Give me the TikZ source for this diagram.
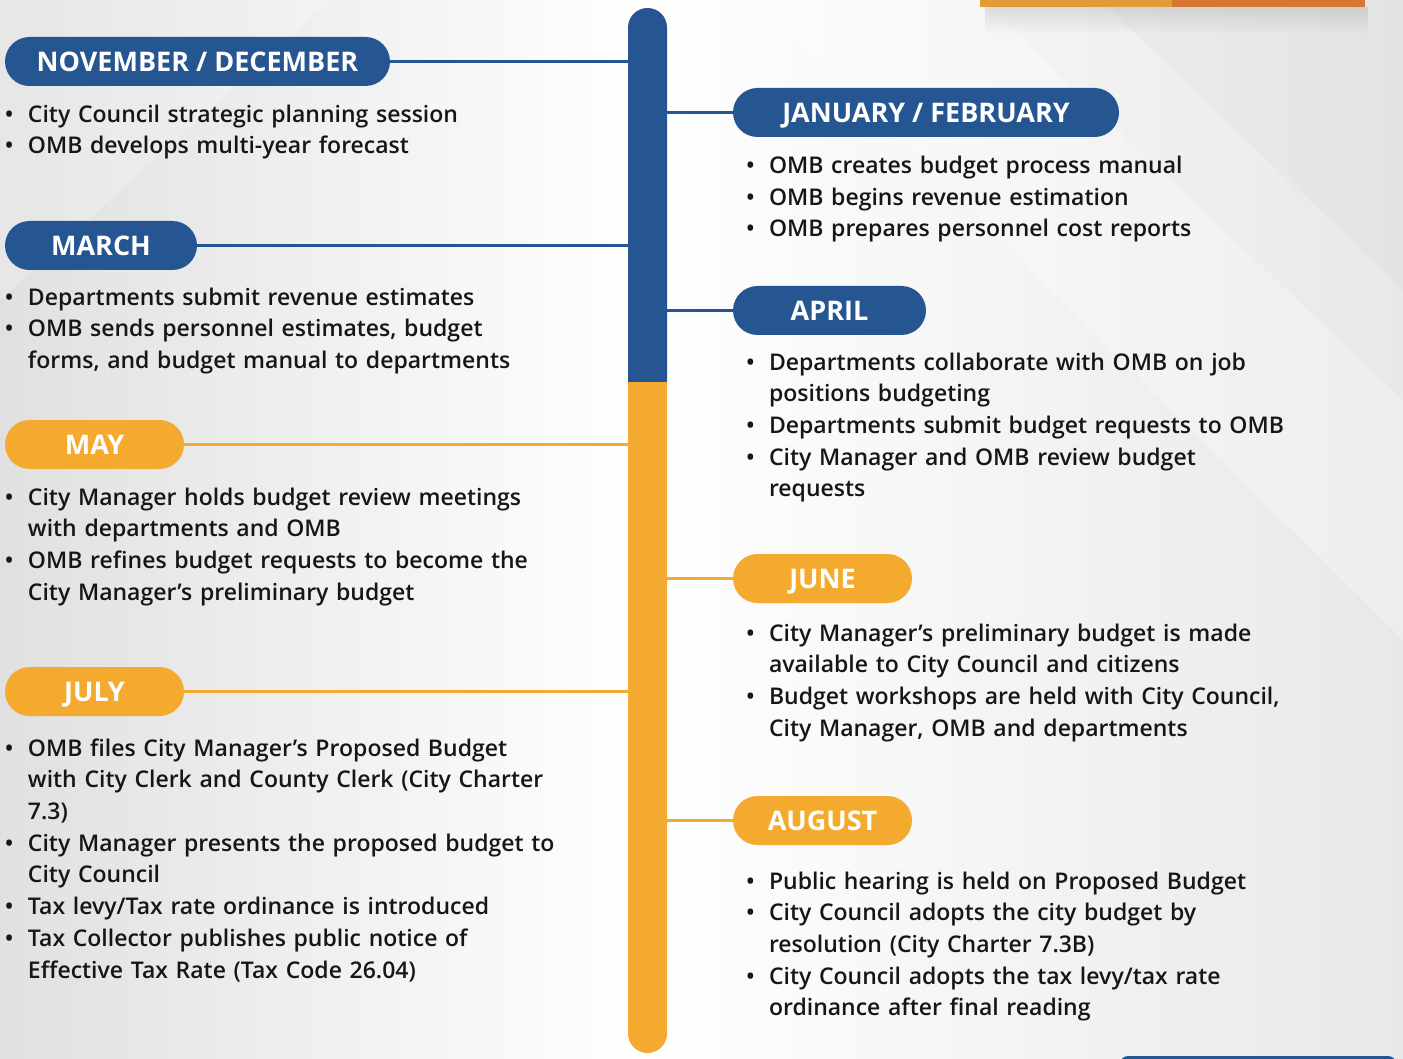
\documentclass[tikz,border=0pt]{standalone}
\usepackage{fontspec}
\setmainfont{Open Sans}
\IfFontExistsTF{Open Sans SemiBold}
  {\newfontfamily\notefont{Open Sans SemiBold}\newcommand{\notesize}{\fontsize{23}{31.7}\selectfont}}
  {\IfFontExistsTF{Open Sans Semibold}
    {\newfontfamily\notefont{Open Sans Semibold}\newcommand{\notesize}{\fontsize{23}{31.7}\selectfont}}
    {\newfontfamily\notefont[FakeBold=0.6]{Open Sans}\newcommand{\notesize}{\fontsize{24}{31.7}\selectfont}}}
\usetikzlibrary{positioning, fadings}

\definecolor{tlblue}{RGB}{37,86,146}
\definecolor{tlorange}{RGB}{243,170,46}
\definecolor{bandgold}{RGB}{224,157,53}
\definecolor{bandrust}{RGB}{214,118,48}
\definecolor{ink}{RGB}{22,22,22}

\tikzset{
  pill/.style={rectangle, rounded corners=24.5pt, minimum height=49pt, inner sep=0pt,
    text height=19.3pt, text depth=0pt, text=white, font=\fontsize{27}{30}\selectfont\bfseries},
  pillblue/.style={pill, fill=tlblue},
  pillorange/.style={pill, fill=tlorange},
  linkblue/.style={draw=tlblue, line width=2.5pt},
  linkorange/.style={draw=tlorange, line width=2.5pt},
  notes/.style={inner sep=0pt, text width=620pt, align=left, text=ink, font=\notefont\notesize},
}
\newlength{\bulw}
\setlength{\bulw}{23pt}
\newcommand{\bitem}[1]{\par\hangindent=\bulw\hangafter=1\noindent\strut\makebox[\bulw][l]{\textbullet}#1\par}

\begin{document}
\begin{tikzpicture}[x=1pt, y=-1pt]
\useasboundingbox (0,0) rectangle (1403,1059);

% Backdrop
\shade[left color=gray!24, right color=white] (0,0) rectangle (640,1059);
\shade[left color=white, right color=gray!18] (640,0) rectangle (1403,1059);
\fill[white, opacity=0.25] (760,0) -- (980,0) -- (1403,400) -- (1403,640) -- cycle;
\fill[gray, opacity=0.04] (1100,0) -- (1403,0) -- (1403,290) -- cycle;
\fill[white, opacity=0.2] (0,0) -- (330,0) -- (0,300) -- cycle;

% Banner, top right
\fill[black, opacity=0.10, path fading=south] (985,7) rectangle (1368,34);
\fill[bandgold] (980,0) rectangle (1172,7);
\fill[bandrust] (1172,0) rectangle (1365,7);

% Tab, bottom right
\fill[tlblue, rounded corners=8pt] (1120,1056) rectangle (1396,1090);

% Spine
\coordinate (spineW) at (628,0);
\coordinate (spineE) at (667,0);
\begin{scope}
  \clip (600,0) rectangle (700,382);
  \fill[tlblue, rounded corners=19.5pt] (628,8) rectangle (667,1053);
\end{scope}
\begin{scope}
  \clip (600,382) rectangle (700,1059);
  \fill[tlorange, rounded corners=19.5pt] (628,8) rectangle (667,1053);
\end{scope}

% Headers
\node[pillblue, minimum width=385pt] (novdec) at (197.5,61.5) {NOVEMBER / DECEMBER};
\node[pillblue, minimum width=192pt] (march) at (101,245.5) {MARCH};
\node[pillorange, minimum width=179pt] (may) at (94.5,444.5) {MAY};
\node[pillorange, minimum width=179pt] (july) at (94.5,691.5) {JULY};
\node[pillblue, minimum width=386pt] (janfeb) at (926,112.5) {JANUARY / FEBRUARY};
\node[pillblue, minimum width=193pt] (april) at (829.5,310.5) {APRIL};
\node[pillorange, minimum width=179pt] (june) at (822.5,578.5) {JUNE};
\node[pillorange, minimum width=179pt] (august) at (822.5,820.5) {AUGUST};

% Connectors
\draw[linkblue] (novdec.east) -- (novdec.east -| spineW);
\draw[linkblue] (march.east) -- (march.east -| spineW);
\draw[linkorange] (may.east) -- (may.east -| spineW);
\draw[linkorange] (july.east) -- (july.east -| spineW);
\draw[linkblue] (janfeb.west) -- (janfeb.west -| spineE);
\draw[linkblue] (april.west) -- (april.west -| spineE);
\draw[linkorange] (june.west) -- (june.west -| spineE);
\draw[linkorange] (august.west) -- (august.west -| spineE);

% Notes, left
\node[notes, below right=4pt and 0pt of novdec.south west] (novdecnotes) {%
  \bitem{City Council strategic planning session}
  \bitem{OMB develops multi-year forecast}};
\node[notes, below right=3pt and 0pt of march.south west] (marchnotes) {%
  \bitem{Departments submit revenue estimates}
  \bitem{OMB sends personnel estimates, budget\newline forms, and budget manual to departments}};
\node[notes, below right=4pt and 0pt of may.south west] (maynotes) {%
  \bitem{City Manager holds budget review meetings\newline with departments and OMB}
  \bitem{OMB refines budget requests to become the\newline City Manager’s preliminary budget}};
\node[notes, below right=8pt and 0pt of july.south west] (julynotes) {%
  \bitem{OMB files City Manager’s Proposed Budget\newline with City Clerk and County Clerk (City Charter\newline 7.3)}
  \bitem{City Manager presents the proposed budget to\newline City Council}
  \bitem{Tax levy/Tax rate ordinance is introduced}
  \bitem{Tax Collector publishes public notice of\newline Effective Tax Rate (Tax Code 26.04)}};

% Notes, right
\node[notes, below right=4.5pt and 13pt of janfeb.south west] (janfebnotes) {%
  \bitem{OMB creates budget process manual}
  \bitem{OMB begins revenue estimation}
  \bitem{OMB prepares personnel cost reports}};
\node[notes, below right=3pt and 13pt of april.south west] (aprilnotes) {%
  \bitem{Departments collaborate with OMB on job\newline positions budgeting}
  \bitem{Departments submit budget requests to OMB}
  \bitem{City Manager and OMB review budget\newline requests}};
\node[notes, below right=6pt and 13pt of june.south west] (junenotes) {%
  \bitem{City Manager’s preliminary budget is made\newline available to City Council and citizens}
  \bitem{Budget workshops are held with City Council,\newline City Manager, OMB and departments}};
\node[notes, below right=12pt and 13pt of august.south west] (augustnotes) {%
  \bitem{Public hearing is held on Proposed Budget}
  \bitem{City Council adopts the city budget by\newline resolution (City Charter 7.3B)}
  \bitem{City Council adopts the tax levy/tax rate\newline ordinance after final reading}};

\end{tikzpicture}
\end{document}
